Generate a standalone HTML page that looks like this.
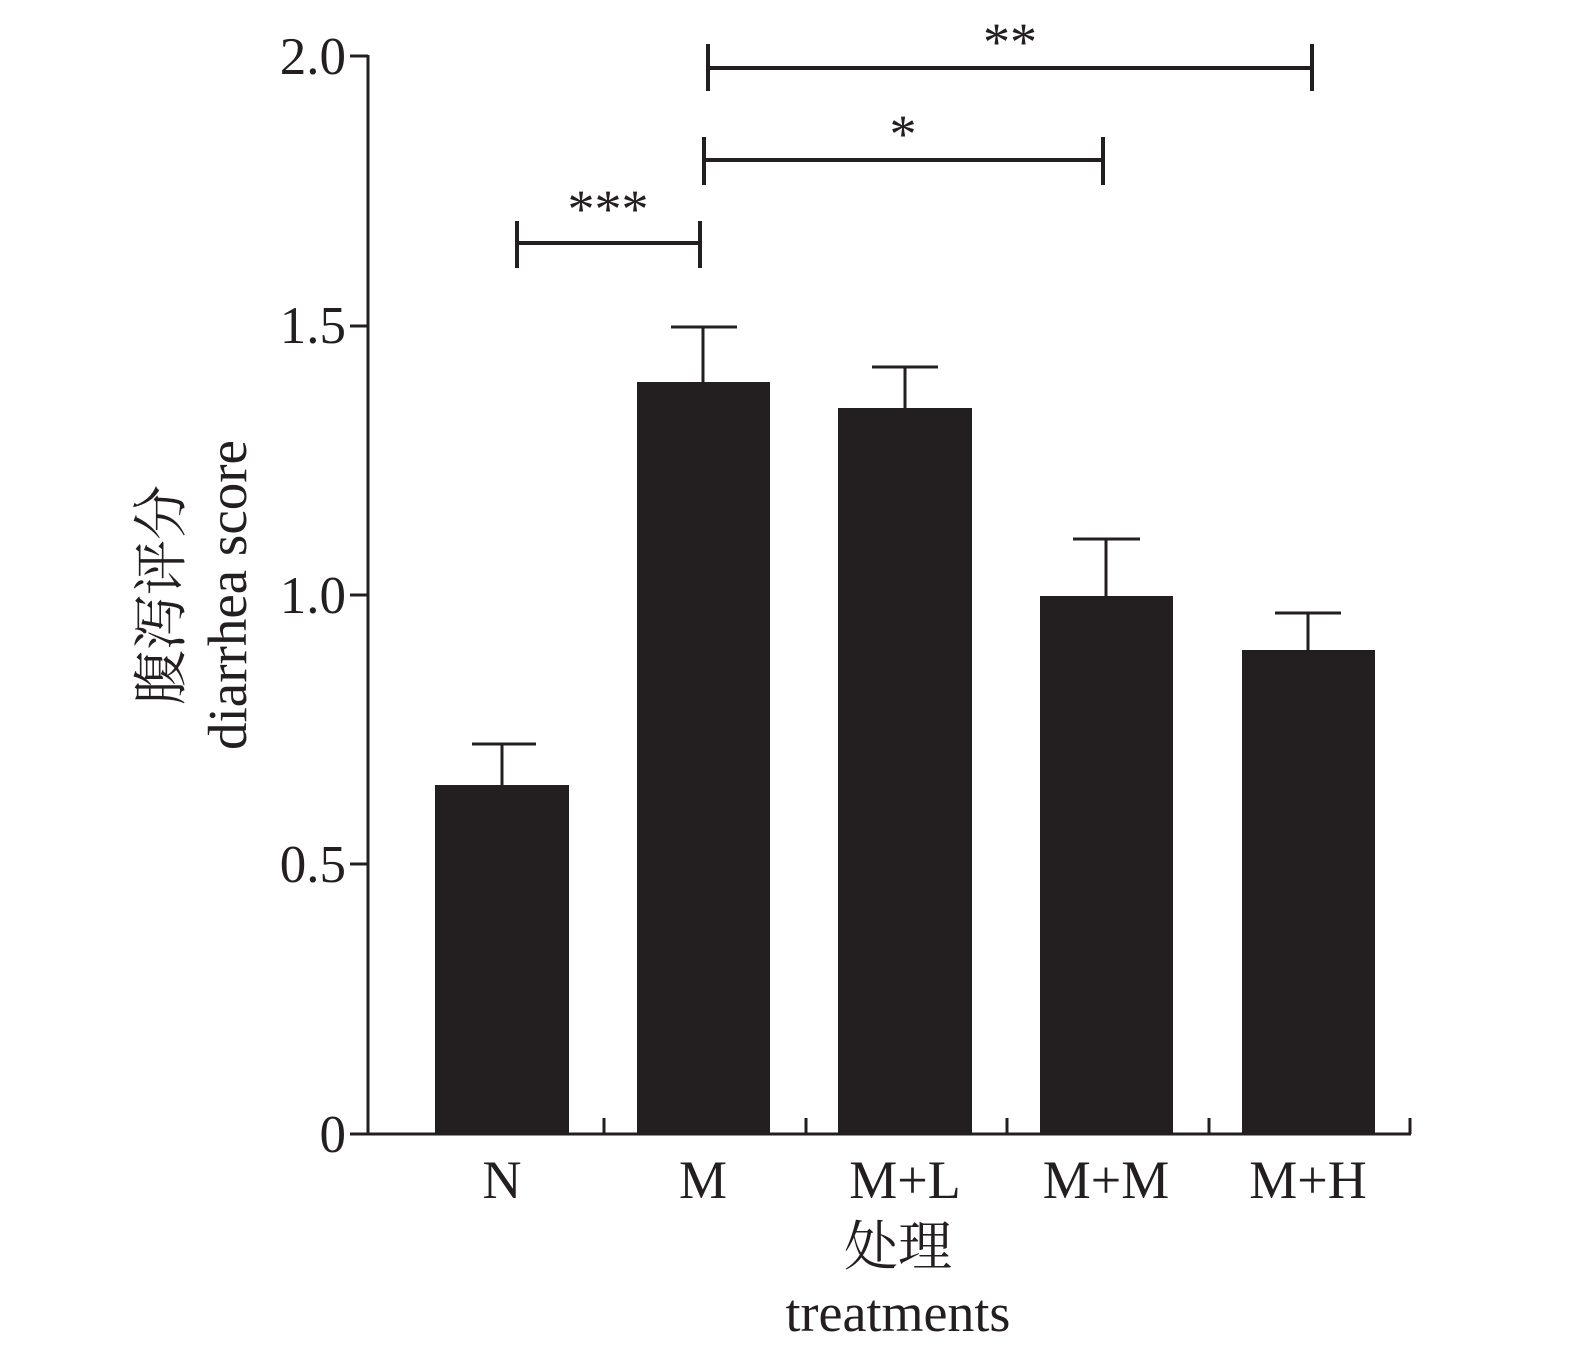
<!DOCTYPE html>
<html><head><meta charset="utf-8"><style>
html,body{margin:0;padding:0;background:#fff;}
svg{display:block;}
text{font-family:"Liberation Serif","Noto Serif CJK SC","Noto Sans CJK SC",serif;fill:#231f20;}
</style></head><body>
<svg width="1575" height="1351" viewBox="0 0 1575 1351" xmlns="http://www.w3.org/2000/svg">
<g stroke="#231f20" stroke-width="3" fill="none">
<line x1="368" y1="55" x2="368" y2="1135"/>
<line x1="367" y1="1134" x2="1411" y2="1134"/>
<line x1="350" y1="56" x2="368" y2="56"/>
<line x1="350" y1="326" x2="368" y2="326"/>
<line x1="350" y1="595" x2="368" y2="595"/>
<line x1="350" y1="864" x2="368" y2="864"/>
<line x1="350" y1="1134" x2="368" y2="1134"/>
<line x1="604" y1="1118" x2="604" y2="1134"/>
<line x1="806" y1="1118" x2="806" y2="1134"/>
<line x1="1007" y1="1118" x2="1007" y2="1134"/>
<line x1="1209" y1="1118" x2="1209" y2="1134"/>
<line x1="1410" y1="1118" x2="1410" y2="1134"/>
<line x1="502" y1="744" x2="502" y2="785"/><line x1="472" y1="744" x2="536" y2="744"/>
<line x1="703" y1="327" x2="703" y2="382"/><line x1="671" y1="327" x2="737" y2="327"/>
<line x1="905" y1="367" x2="905" y2="408"/><line x1="872" y1="367" x2="938" y2="367"/>
<line x1="1106" y1="539" x2="1106" y2="596"/><line x1="1073" y1="539" x2="1140" y2="539"/>
<line x1="1308" y1="613" x2="1308" y2="650"/><line x1="1275" y1="613" x2="1341" y2="613"/>
</g>
<g fill="#231f20">
<rect x="435" y="785" width="134" height="349"/>
<rect x="637" y="382" width="133" height="752"/>
<rect x="838" y="408" width="134" height="726"/>
<rect x="1040" y="596" width="133" height="538"/>
<rect x="1242" y="650" width="133" height="484"/>
</g>
<g stroke="#231f20" stroke-width="4" fill="none">
<line x1="517" y1="243" x2="700" y2="243"/><line x1="517" y1="221" x2="517" y2="268"/><line x1="700" y1="221" x2="700" y2="268"/>
<line x1="704" y1="160" x2="1103" y2="160"/><line x1="704" y1="137" x2="704" y2="185"/><line x1="1103" y1="137" x2="1103" y2="185"/>
<line x1="708" y1="68" x2="1312" y2="68"/><line x1="708" y1="44" x2="708" y2="91"/><line x1="1312" y1="44" x2="1312" y2="91"/>
</g>
<g font-size="54" text-anchor="middle">
<text x="608" y="227">***</text>
<text x="903" y="152">*</text>
<text x="1010" y="60">**</text>
</g>
<g font-size="53" text-anchor="end">
<text x="346" y="74">2.0</text>
<text x="346" y="343">1.5</text>
<text x="346" y="613">1.0</text>
<text x="346" y="882">0.5</text>
<text x="346" y="1152">0</text>
</g>
<g font-size="54" text-anchor="middle">
<text x="502" y="1198">N</text>
<text x="703" y="1198">M</text>
<text x="905" y="1198">M+L</text>
<text x="1106" y="1198">M+M</text>
<text x="1308" y="1198">M+H</text>
<text x="898" y="1265">处理</text>
<text x="898" y="1331">treatments</text>
</g>
<g font-size="55" text-anchor="middle">
<text transform="translate(180,595) rotate(-90)">腹泻评分</text>
<text transform="translate(246,595) rotate(-90)">diarrhea score</text>
</g>
</svg>
</body></html>
